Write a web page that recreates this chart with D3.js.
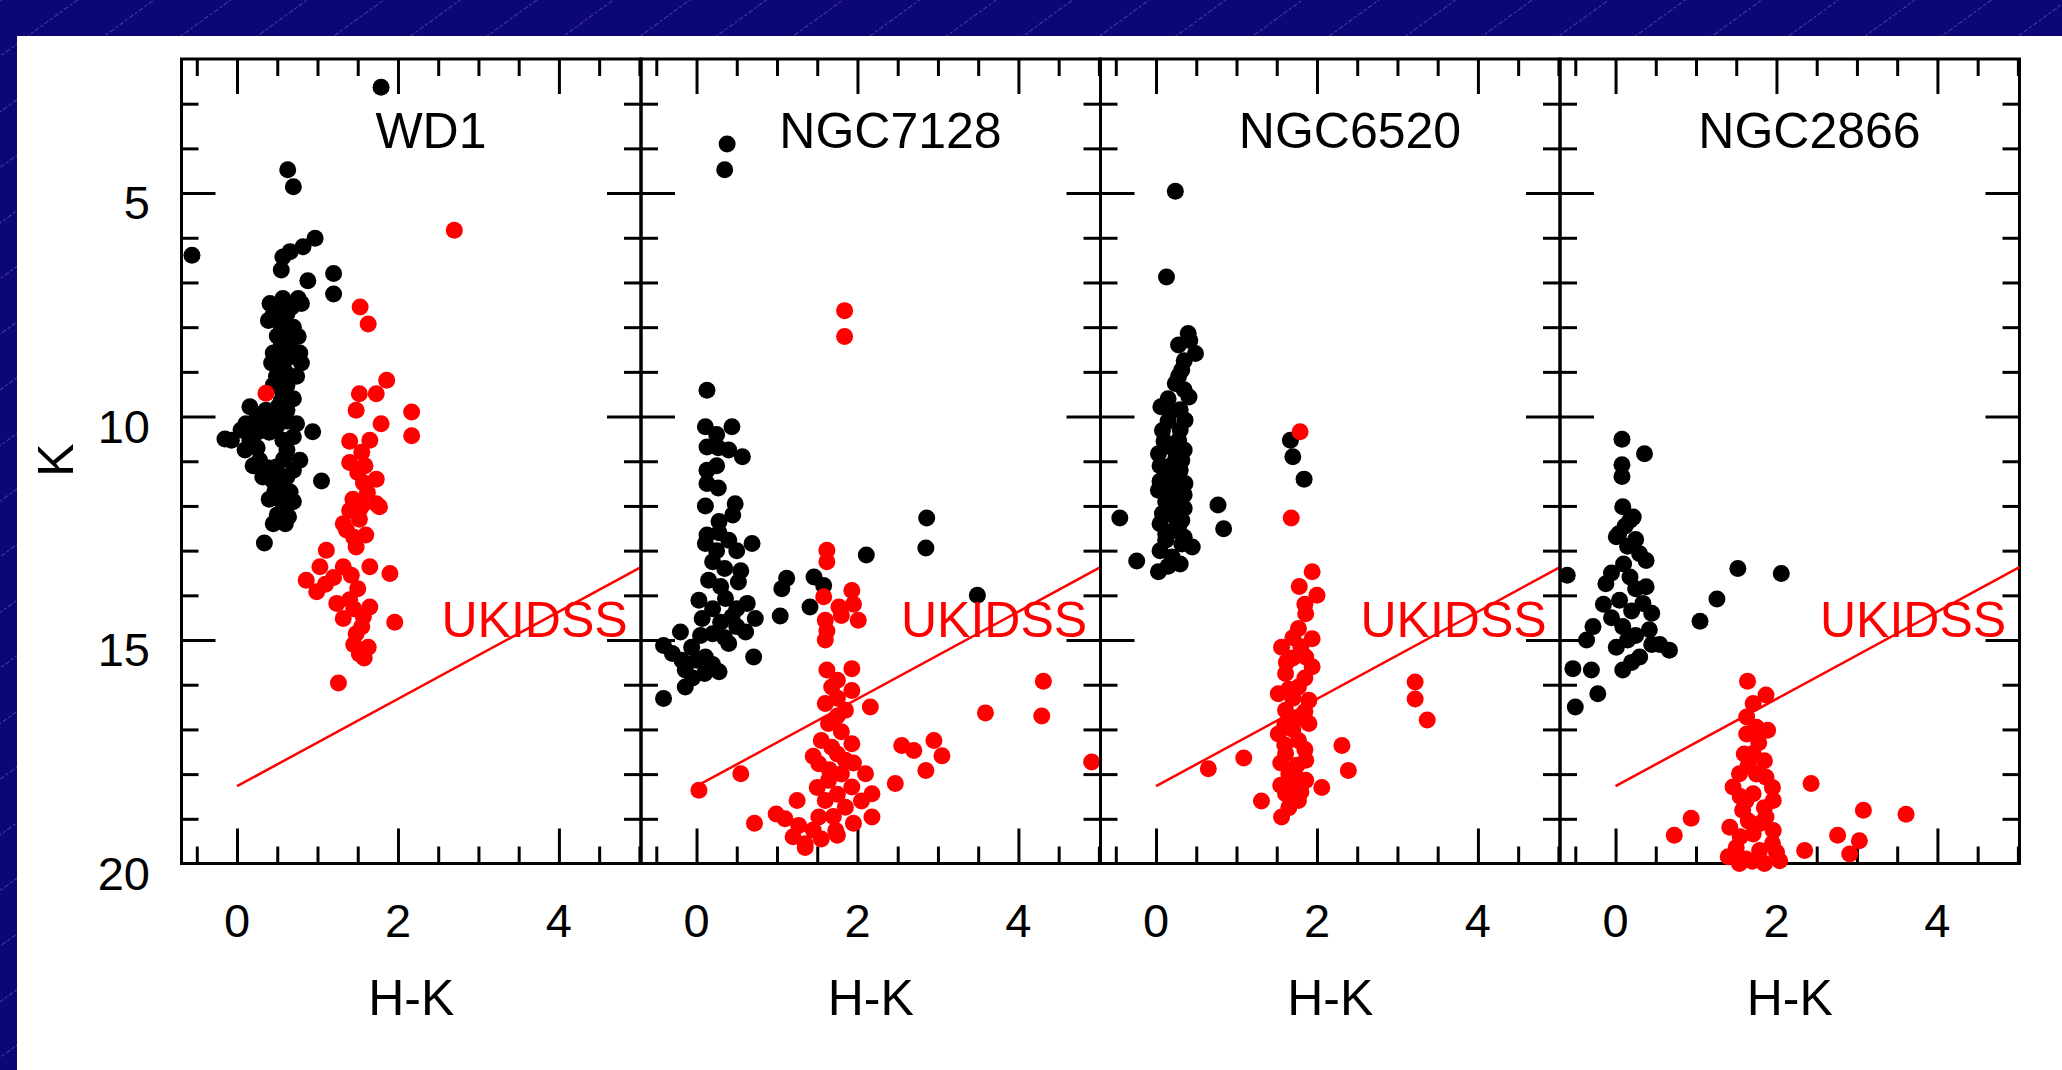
<!DOCTYPE html>
<html>
<head>
<meta charset="utf-8">
<script src="https://cdn.jsdelivr.net/npm/d3@7"></script>
<style>
  html, body { margin: 0; padding: 0; background: #0d0676; }
  svg { display: block; }
  text { font-family: "Liberation Sans", Arial, sans-serif; }
</style>
</head>
<body>
<div id="chart"></div>
<script>
// ---- data: [H-K, K] pairs ----
var panelNames = ["WD1", "NGC7128", "NGC6520", "NGC2866"];

var wd1Black = [
  [1.79,2.63],[0.63,4.48],[0.70,4.86],[-0.56,6.39],
  [0.97,6.01],[0.82,6.20],[0.66,6.31],[0.57,6.43],[0.55,6.72],
  [0.88,6.96],[1.20,6.80],[1.20,7.26],
  [0.57,7.36],[0.76,7.36],[0.41,7.47],[0.80,7.47],[0.50,7.55],[0.68,7.55],
  [0.45,7.70],[0.62,7.70],[0.39,7.85],[0.55,8.00],[0.60,7.90],[0.70,8.00],
  [0.66,8.21],[0.76,8.21],[0.55,8.40],[0.50,8.20],[0.65,8.45],
  [0.45,8.58],[0.78,8.58],[0.43,8.80],[0.55,8.80],[0.80,8.80],[0.62,8.70],[0.60,9.00],
  [0.49,9.10],[0.74,9.10],[0.62,9.30],[0.57,9.49],[0.45,9.30],[0.55,9.65],[0.70,9.60],
  [0.16,9.78],[0.51,9.78],[0.36,9.86],[0.62,9.86],[0.25,9.95],[0.45,10.00],
  [0.11,10.16],[0.30,10.10],[0.49,10.23],[0.74,10.16],[0.94,10.34],[0.62,10.10],
  [0.05,10.30],[0.25,10.35],[0.40,10.35],[0.70,10.45],
  [-0.15,10.50],[-0.07,10.53],[0.16,10.53],[0.57,10.53],
  [0.10,10.75],[0.62,10.75],[0.25,10.70],
  [0.28,10.98],[0.78,10.98],[0.49,11.13],[0.20,11.10],[0.58,10.95],[0.40,11.15],[0.70,11.20],
  [0.32,11.35],[0.62,11.35],[1.05,11.44],[0.45,11.45],[0.55,11.55],
  [0.47,11.69],[0.66,11.69],[0.57,11.95],[0.57,12.10],[0.64,12.24],[0.50,12.20],
  [0.40,11.85],[0.70,11.90],[0.45,12.40],[0.60,12.40],
  [0.34,12.83]
];
var wd1Red = [
  [2.70,5.83],[1.53,7.55],[1.63,7.93],
  [1.86,9.19],[1.73,9.49],[1.52,9.49],[1.48,9.86],[2.17,9.90],[2.17,10.43],[1.79,10.16],
  [0.36,9.48],
  [1.40,10.55],[1.65,10.53],[1.40,11.03],[1.59,11.10],[1.57,11.48],[1.73,11.40],
  [1.55,10.80],[1.50,11.25],[1.62,11.70],[1.55,12.00],
  [1.44,11.85],[1.40,12.10],[1.73,11.95],[1.32,12.40],[1.52,12.30],
  [1.52,12.09],[1.77,12.02],[1.36,12.54],[1.11,12.99],[1.48,12.92],[1.45,12.70],[1.60,12.65],
  [1.03,13.36],[1.32,13.36],[1.65,13.36],[1.90,13.51],[0.86,13.66],[0.99,13.92],
  [1.20,13.60],[1.42,13.55],[1.10,13.75],
  [1.50,13.85],[1.24,14.18],[1.65,14.26],[1.32,14.52],[1.57,14.48],[1.96,14.60],
  [1.40,14.10],[1.45,14.30],[1.55,14.70],[1.45,15.10],[1.58,15.40],
  [1.48,14.86],[1.52,15.31],[1.63,15.16],[1.26,15.96]
];

var ngc7128Black = [
  [0.38,3.90],[0.35,4.48],[0.13,9.41],
  [0.11,10.23],[0.44,10.23],[0.13,10.68],[0.40,10.75],[0.57,10.90],[0.13,11.20],[0.13,11.50],
  [0.25,10.40],[0.27,10.70],[0.25,11.10],[0.27,11.60],
  [0.11,12.00],[0.48,11.95],[0.28,12.35],[0.13,12.65],[0.45,12.20],[0.28,12.60],
  [0.11,12.84],[0.40,12.77],[0.69,12.84],[0.20,13.25],[0.15,13.66],[0.52,13.70],
  [0.25,13.00],[0.50,13.00],[0.35,13.40],[0.55,13.45],[0.30,13.80],
  [0.03,14.11],[0.36,14.07],[0.63,14.18],[0.07,14.52],[0.44,14.48],[0.73,14.52],
  [0.20,14.30],[0.50,14.30],[0.30,14.60],[0.50,14.70],[0.05,14.90],[0.35,14.95],
  [-0.20,14.82],[0.20,14.86],[0.61,14.82],[-0.41,15.12],[-0.06,15.16],[0.40,15.08],
  [-0.30,15.30],[0.00,15.45],[0.20,15.55],[-0.05,15.85],[0.10,15.75],
  [0.71,15.38],[-0.18,15.45],[0.11,15.38],[-0.14,15.67],[0.28,15.71],[-0.14,16.05],[-0.41,16.31],
  [1.12,13.62],[1.06,13.85],[1.04,14.46],[1.41,14.26],[1.46,13.59],[1.58,13.78],
  [2.11,13.10],[2.86,12.27],[2.85,12.94],[3.49,14.00]
];
var ngc7128Red = [
  [1.84,7.63],[1.84,8.21],
  [1.62,12.99],[1.62,13.25],[1.93,13.89],[1.58,14.03],[1.77,14.26],[2.01,14.56],[1.60,14.56],[1.60,15.00],
  [1.62,14.80],[1.80,14.45],[1.95,14.20],
  [1.62,15.67],[1.93,15.64],[1.68,16.05],[1.93,16.13],[1.60,16.42],[1.85,16.57],[2.16,16.50],
  [1.75,15.90],[1.75,16.30],[1.75,16.70],[1.80,17.05],[1.55,17.25],[1.75,17.55],[1.95,17.75],
  [1.64,16.87],[1.93,17.32],[1.68,17.40],[1.52,17.77],[1.85,17.69],[2.10,17.99],[1.64,18.14],
  [1.65,17.90],[1.80,18.00],[1.50,18.30],[1.75,18.45],[2.05,18.60],[1.70,18.95],[1.95,19.10],
  [1.93,18.29],[2.18,18.44],[1.60,18.59],[1.85,18.74],[2.18,18.96],[1.52,18.96],[1.73,19.26],
  [1.75,19.37],[1.35,19.56],[1.35,19.64],[1.45,17.60],[1.45,19.25],[1.55,19.45],[1.20,19.40],[1.10,19.00],
  [0.99,18.89],[1.27,19.15],[1.25,18.59],
  [0.03,18.36],[0.55,17.99],[0.72,19.10],
  [2.55,17.36],[2.70,17.47],[2.95,17.25],[3.05,17.59],[2.85,17.92],[2.47,18.21],
  [3.59,16.63],[4.31,15.92],[4.29,16.70],[4.91,17.73]
];

var ngc6520Black = [
  [0.24,4.96],[0.13,6.88],
  [0.40,8.14],[0.28,8.40],[0.49,8.59],[0.32,8.96],[0.24,9.26],[0.41,9.56],
  [0.42,8.30],[0.35,8.75],[0.28,9.10],[0.35,9.40],
  [0.06,9.78],[0.18,9.90],[0.36,10.08],[0.08,10.31],[0.28,10.53],[0.20,10.70],[0.03,10.83],
  [0.15,9.60],[0.30,9.85],[0.15,10.10],[0.30,10.30],[0.10,10.55],[0.35,10.75],[0.25,10.90],
  [0.32,10.98],[0.18,11.10],[0.12,11.28],[0.36,11.50],[0.20,11.60],[0.03,11.65],[0.24,11.87],
  [0.05,11.10],[0.30,11.20],[0.20,11.40],[0.05,11.45],[0.35,11.75],[0.12,11.90],[0.35,12.05],
  [0.08,12.17],[0.20,12.20],[0.32,12.32],[0.12,12.62],[0.35,12.70],
  [0.05,12.40],[0.22,12.55],[0.32,12.85],[0.05,13.00],[0.15,13.35],[0.30,13.30],
  [0.28,12.47],[0.12,12.77],[0.45,12.92],[0.20,13.14],[0.03,13.47],
  [1.67,10.53],[1.70,10.90],[1.84,11.40],
  [-0.45,12.27],[0.77,11.98],[0.84,12.51],[-0.24,13.23]
];
var ngc6520Red = [
  [1.79,10.34],[1.68,12.27],
  [1.94,13.47],[1.78,13.80],[2.00,14.00],[1.86,14.41],[1.77,14.74],[1.94,14.97],[1.85,14.20],[1.70,14.95],
  [1.56,15.16],[1.86,15.38],[1.70,15.40],[1.94,15.60],[1.61,15.75],[1.77,16.05],[1.52,16.20],
  [1.80,15.15],[1.62,15.50],[1.85,15.85],[1.65,16.10],[1.85,16.60],[1.75,16.75],
  [1.70,16.30],[1.90,16.35],[1.61,16.57],[1.90,16.87],[1.60,16.90],[1.70,17.00],[1.52,17.10],
  [1.60,17.35],[1.85,17.45],[1.55,17.75],[1.75,18.10],[1.55,18.25],[1.80,18.40],[1.65,18.75],
  [1.77,17.25],[1.61,17.54],[1.86,17.69],[1.75,17.80],[1.65,17.99],[1.86,18.14],[1.70,18.30],
  [1.61,18.44],[1.77,18.59],[1.56,18.96],
  [2.06,18.30],[2.31,17.36],[2.39,17.92],[3.22,15.94],[3.22,16.32],[3.37,16.79],
  [1.09,17.64],[0.65,17.88],[1.31,18.60]
];

var ngc2866Black = [
  [0.08,10.51],[0.36,10.83],[0.08,11.08],[0.08,11.34],[0.09,12.02],[0.22,12.25],[0.04,12.62],
  [0.18,12.32],[0.01,12.69],[0.15,12.90],[0.30,13.07],[0.38,13.22],[0.10,13.30],
  [0.12,12.45],[0.25,12.75],[-0.05,13.50],[0.25,13.85],
  [-0.12,13.74],[0.18,13.59],[0.38,13.81],[0.05,14.11],[0.34,14.18],
  [-0.15,14.20],[0.20,14.35],[0.45,14.40],[-0.05,14.50],
  [-0.28,14.70],[0.09,14.70],[0.25,14.90],[0.42,14.77],[-0.36,15.00],[0.67,15.23],
  [0.15,15.00],[0.45,15.10],[0.20,15.50],[0.55,15.10],
  [0.01,15.16],[0.30,15.38],[0.09,15.67],
  [-0.53,15.64],[-0.30,15.67],[-0.22,16.20],[-0.50,16.50],
  [1.52,13.40],[2.06,13.51],[1.26,14.08],[1.05,14.58],[-0.60,13.55]
];
var ngc2866Red = [
  [1.64,15.92],[1.87,16.23],[1.71,16.42],
  [1.63,16.72],[1.63,17.10],[1.89,17.02],[1.71,17.54],[1.54,17.99],[1.75,18.00],[1.87,18.07],
  [1.75,16.95],[1.78,17.30],[1.60,17.55],[1.85,17.70],[1.65,17.80],
  [1.46,18.29],[1.71,18.44],[1.62,18.60],[1.96,18.59],[1.58,18.81],[1.87,18.96],[1.80,19.10],
  [1.95,18.30],[1.55,18.50],[1.85,18.75],[1.65,19.05],[1.55,19.40],[1.95,19.55],
  [1.42,19.19],[1.71,19.34],[1.96,19.26],[1.50,19.64],[1.79,19.71],[2.04,19.94],[1.54,20.00],
  [1.62,19.90],[1.85,20.00],[1.70,19.95],[1.40,19.85],[2.00,19.75],
  [2.43,18.21],[0.94,18.99],[0.73,19.37],[3.08,18.81],[3.61,18.90],[2.35,19.71],
  [2.76,19.37],[3.03,19.49],[2.91,19.79]
];

// UKIDSS limit, drawn in every panel
var ukidssLine = [[0, 18.27], [5.02, 13.37]];

// ticks
var kMajorTicks = [5, 10, 15];
var kMinorTicks = [3, 4, 6, 7, 8, 9, 11, 12, 13, 14, 16, 17, 18, 19];
var kTickLabels = [5, 10, 15, 20];
var hkMajorTicks = [0, 2, 4];
var hkMinorTicks = [-0.5, 0.5, 1, 1.5, 2.5, 3, 3.5, 4.5, 5];
var hkTickLabels = [0, 2, 4];

var panels = [
  {name: panelNames[0], black: wd1Black, red: wd1Red},
  {name: panelNames[1], black: ngc7128Black, red: ngc7128Red},
  {name: panelNames[2], black: ngc6520Black, red: ngc6520Red},
  {name: panelNames[3], black: ngc2866Black, red: ngc2866Red}
];

// ---- layout ----
var width = 2062, height = 1070;
var frame = {left: 181.5, top: 59, bottom: 863.5, panelWidth: 459.5};
var dotR = 8.5
  , majorLen = 34
  , minorLen = 17
  , lineW = 3;

var svg = d3.select("#chart").append("svg")
    .attr("width", width)
    .attr("height", height);

// slide background: navy with faint diagonal streaks
var defs = svg.append("defs");
var pat = defs.append("pattern")
    .attr("id", "streaks")
    .attr("patternUnits", "userSpaceOnUse")
    .attr("width", 12)
    .attr("height", 45)
    .attr("patternTransform", "rotate(-36)");
pat.append("rect").attr("width", 12).attr("height", 45).attr("fill", "#0d0676");
pat.append("line")
    .attr("x1", 0).attr("x2", 12).attr("y1", 0.5).attr("y2", 0.5)
    .attr("stroke", "rgba(170,170,235,0.35)")
    .attr("stroke-width", 1)
    .attr("stroke-dasharray", "3 2");

svg.append("rect").attr("width", width).attr("height", height).attr("fill", "url(#streaks)");
svg.append("rect")
    .attr("x", 17).attr("y", 36)
    .attr("width", width - 17).attr("height", height - 36)
    .attr("fill", "#ffffff");

var x = d3.scaleLinear().domain([-0.69, 5.02]).range([0, frame.panelWidth]);
var y = d3.scaleLinear().domain([2, 20]).range([frame.top, frame.bottom]);

function tickStyle(g) {
  g.select(".domain").remove();
  g.selectAll(".tick line").attr("stroke", "#000").attr("stroke-width", lineW);
  g.selectAll(".tick text").remove();
}

panels.forEach(function(p, i) {
  var g = svg.append("g")
      .attr("class", "panel")
      .attr("transform", "translate(" + (frame.left + i * frame.panelWidth) + ",0)");

  // ticks on all four sides, pointing inwards
  g.append("g").call(d3.axisRight(y).tickValues(kMinorTicks).tickSize(minorLen)).call(tickStyle);
  g.append("g").call(d3.axisRight(y).tickValues(kMajorTicks).tickSize(majorLen)).call(tickStyle);
  g.append("g").attr("transform", "translate(" + frame.panelWidth + ",0)")
      .call(d3.axisLeft(y).tickValues(kMinorTicks).tickSize(minorLen)).call(tickStyle);
  g.append("g").attr("transform", "translate(" + frame.panelWidth + ",0)")
      .call(d3.axisLeft(y).tickValues(kMajorTicks).tickSize(majorLen)).call(tickStyle);
  g.append("g").attr("transform", "translate(0," + frame.bottom + ")")
      .call(d3.axisTop(x).tickValues(hkMinorTicks).tickSize(minorLen)).call(tickStyle);
  g.append("g").attr("transform", "translate(0," + frame.bottom + ")")
      .call(d3.axisTop(x).tickValues(hkMajorTicks).tickSize(majorLen + 1)).call(tickStyle);
  g.append("g").attr("transform", "translate(0," + frame.top + ")")
      .call(d3.axisBottom(x).tickValues(hkMinorTicks).tickSize(minorLen)).call(tickStyle);
  g.append("g").attr("transform", "translate(0," + frame.top + ")")
      .call(d3.axisBottom(x).tickValues(hkMajorTicks).tickSize(majorLen + 1)).call(tickStyle);

  g.append("rect")
      .attr("x", 0).attr("y", frame.top)
      .attr("width", frame.panelWidth).attr("height", frame.bottom - frame.top)
      .attr("fill", "none").attr("stroke", "#000").attr("stroke-width", lineW);

  // stars
  g.append("g").selectAll("circle").data(p.black).enter().append("circle")
      .attr("cx", function(d) { return x(d[0]); })
      .attr("cy", function(d) { return y(d[1]); })
      .attr("r", dotR)
      .attr("fill", "#000");
  g.append("g").selectAll("circle").data(p.red).enter().append("circle")
      .attr("cx", function(d) { return x(d[0]); })
      .attr("cy", function(d) { return y(d[1]); })
      .attr("r", dotR)
      .attr("fill", "#ff0000");

  // UKIDSS limit
  g.append("path")
      .datum(ukidssLine)
      .attr("d", d3.line().x(function(d) { return x(d[0]); }).y(function(d) { return y(d[1]); }))
      .attr("fill", "none")
      .attr("stroke", "#ff0000")
      .attr("stroke-width", 2.5);

  g.append("text")
      .attr("x", x(2.54)).attr("y", y(14.94))
      .attr("font-size", 50)
      .attr("fill", "#ff0000")
      .text("UKIDSS");

  g.append("text")
      .attr("x", x(2.41)).attr("y", y(3.99))
      .attr("text-anchor", "middle")
      .attr("font-size", 50)
      .attr("fill", "#000")
      .text(p.name);

  // x tick labels + title
  g.selectAll(".hk-label").data(hkTickLabels).enter().append("text")
      .attr("class", "hk-label")
      .attr("x", function(d) { return x(d); })
      .attr("y", 937)
      .attr("text-anchor", "middle")
      .attr("font-size", 47)
      .text(function(d) { return d; });

  g.append("text")
      .attr("x", frame.panelWidth / 2).attr("y", 1015)
      .attr("text-anchor", "middle")
      .attr("font-size", 50)
      .text("H-K");
});

// y tick labels, left panel only
svg.append("g").selectAll("text").data(kTickLabels).enter().append("text")
    .attr("x", 150)
    .attr("y", function(d) { return y(d) + 26; })
    .attr("text-anchor", "end")
    .attr("font-size", 47)
    .text(function(d) { return d; });

svg.append("text")
    .attr("transform", "translate(73,460) rotate(-90)")
    .attr("text-anchor", "middle")
    .attr("font-size", 50)
    .text("K");
</script>
</body>
</html>
